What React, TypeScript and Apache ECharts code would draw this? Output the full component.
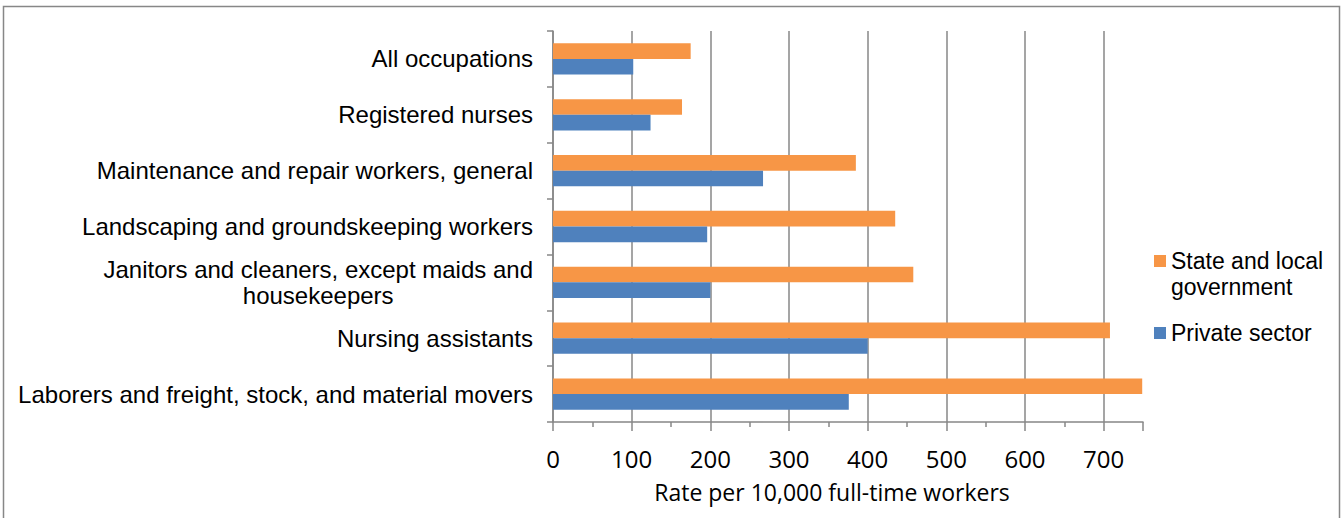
import React, { useEffect, useRef } from 'react';
import * as echarts from 'echarts';

const categories = [
  'Laborers and freight, stock, and material movers',
  'Nursing assistants',
  'Janitors and cleaners, except maids and\nhousekeepers',
  'Landscaping and groundskeeping workers',
  'Maintenance and repair workers, general',
  'Registered nurses',
  'All occupations',
];
const privateSector = [376, 400, 200, 196, 267, 124, 102];
const stateLocal = [749, 708, 458, 435, 385, 164, 175];
const privateName = 'Private sector';
const stateName = 'State and local\ngovernment';
const axisMin = 0;
const axisMax = 750;
const axisInterval = 100;
const axisTitle = 'Rate per 10,000 full-time workers';

const GRAY = '#878787';
const ARIAL = '"Liberation Sans", Arial, sans-serif';
const CALIBRI = '"Open Sans", Calibri, sans-serif';

export default function App() {
  const ref = useRef<HTMLDivElement>(null);
  useEffect(() => {
    if (!ref.current) return;
    const chart = echarts.init(ref.current, undefined, { renderer: 'svg' });
    chart.setOption({
      animation: false,
      backgroundColor: '#ffffff',
      graphic: [
        {
          type: 'rect',
          shape: { x: 3.5, y: 6.5, width: 1336, height: 540 },
          style: { fill: 'none', stroke: GRAY, lineWidth: 1.5 },
          silent: true,
        },
      ],
      grid: { left: 553, right: 200, top: 31, bottom: 96, containLabel: false },
      legend: [
        {
          data: [stateName],
          orient: 'vertical',
          left: 1154,
          top: 222,
          padding: 0,
          itemWidth: 12,
          itemHeight: 12,
          icon: 'rect',
          formatter: (n: string) => ' \n' + n,
          textStyle: { fontFamily: ARIAL, fontSize: 23, color: '#000', lineHeight: 26 },
        },
        {
          data: [privateName],
          orient: 'vertical',
          left: 1154,
          top: 320,
          padding: 0,
          itemWidth: 12,
          itemHeight: 12,
          icon: 'rect',
          textStyle: { fontFamily: ARIAL, fontSize: 23, color: '#000', lineHeight: 26 },
        },
      ],
      xAxis: {
        type: 'value',
        min: axisMin,
        max: axisMax,
        interval: axisInterval,
        name: axisTitle,
        nameLocation: 'middle',
        nameGap: 58,
        nameTextStyle: { fontFamily: CALIBRI, fontSize: 23, color: '#000', padding: [0, 32, 0, 0] },
        axisLine: { show: true, lineStyle: { color: GRAY, width: 1.5 } },
        axisTick: { show: true, inside: false, length: 9, lineStyle: { color: GRAY, width: 1.5 } },
        minorTick: { show: true, splitNumber: 2, length: 5, lineStyle: { color: GRAY, width: 1.5 } },
        axisLabel: {
          fontFamily: CALIBRI,
          fontSize: 24,
          color: '#000',
          margin: 24,
          showMaxLabel: false,
        },
        splitLine: { show: true, showMaxLine: false, lineStyle: { color: GRAY, width: 1.5 } },
      },
      yAxis: {
        type: 'category',
        data: categories,
        axisLine: { show: true, lineStyle: { color: GRAY, width: 1.5 } },
        axisTick: { show: true, inside: false, length: 6, lineStyle: { color: GRAY, width: 1.5 } },
        axisLabel: {
          margin: 20,
          color: '#000',
          fontFamily: ARIAL,
          fontSize: 24,
          lineHeight: 26,
          formatter: (v: string) => v.split('\n').map((l) => `{c|${l}}`).join('\n'),
          rich: {
            c: { align: 'center', fontFamily: ARIAL, fontSize: 24, lineHeight: 26, color: '#000' },
          },
        },
        splitLine: { show: false },
      },
      series: [
        {
          name: stateName,
          type: 'bar',
          data: stateLocal,
          barGap: '0%',
          barCategoryGap: '44%',
          itemStyle: { color: '#F79646' },
          z: 2,
        },
        {
          name: privateName,
          type: 'bar',
          data: privateSector,
          barGap: '0%',
          barCategoryGap: '44%',
          itemStyle: { color: '#4F81BD' },
          z: 2,
        },
      ],
    });
    return () => chart.dispose();
  }, []);
  return (
    <div
      ref={ref}
      style={{ position: 'fixed', left: 0, top: 0, width: 1343, height: 518 }}
    />
  );
}
